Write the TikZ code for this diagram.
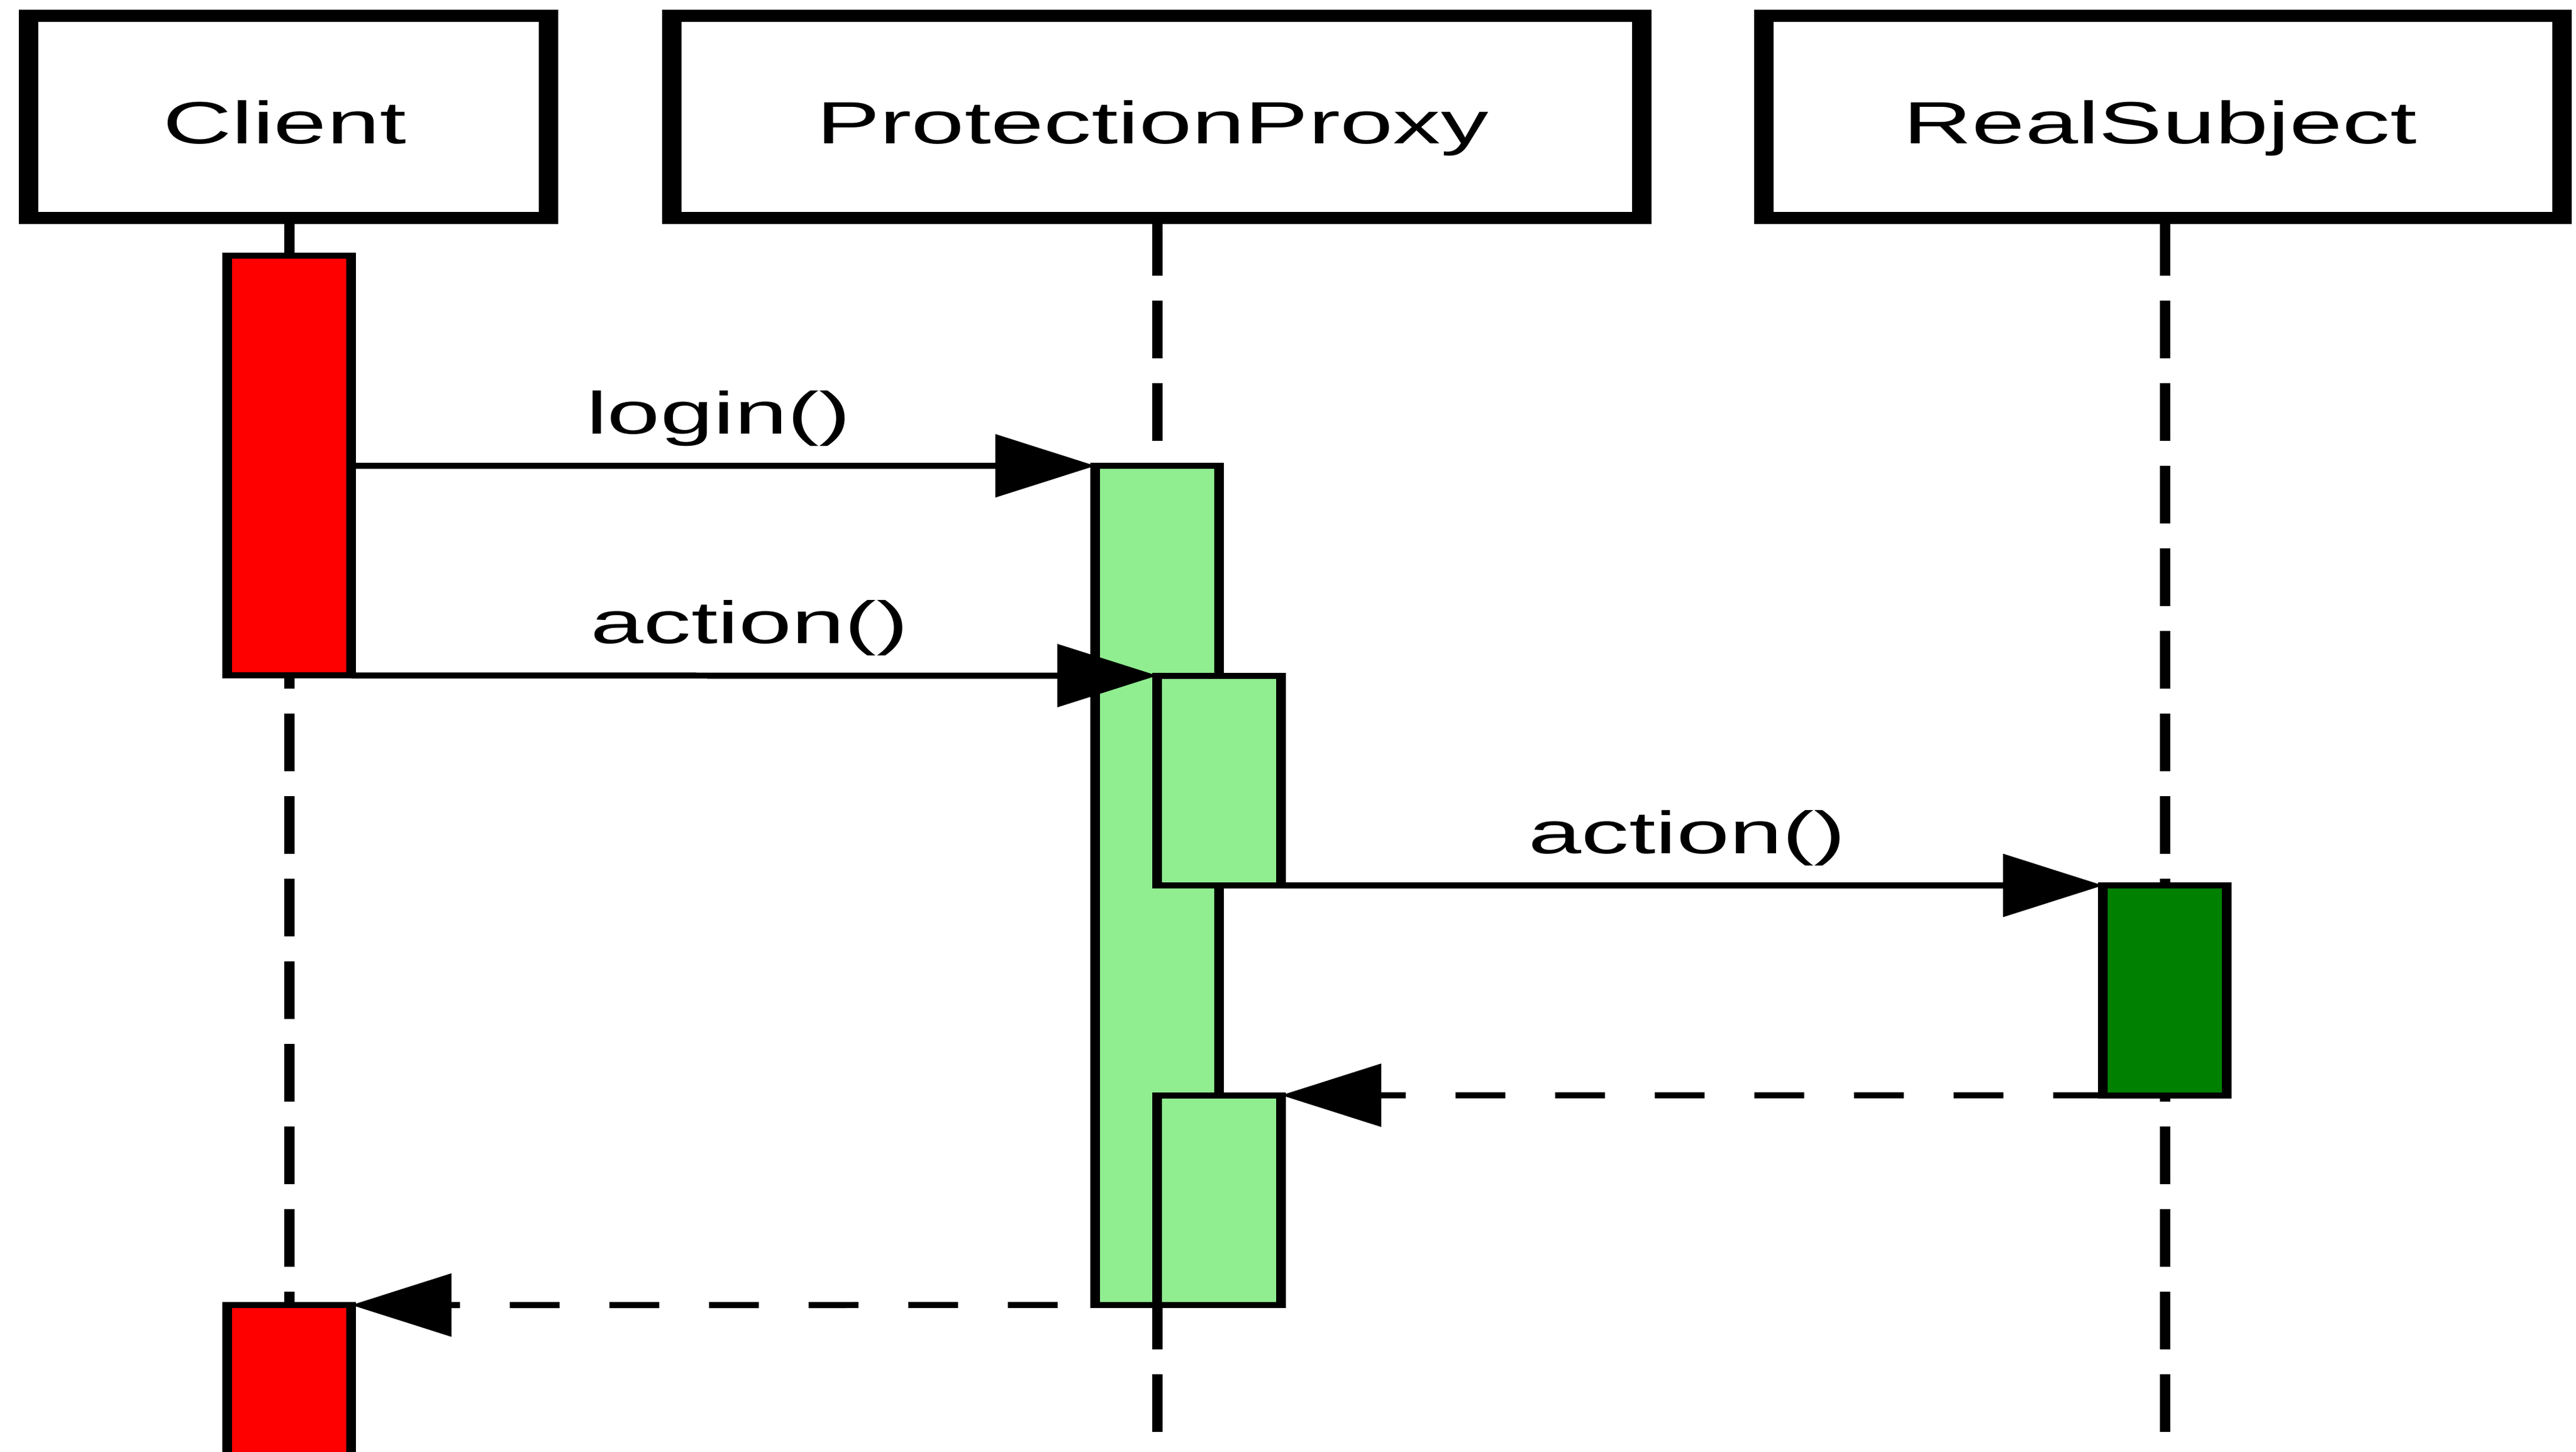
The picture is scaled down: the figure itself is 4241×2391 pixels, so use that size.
\documentclass[tikz,border=0pt]{standalone}
\usepackage{fontspec}
\setmainfont{Liberation Sans}
\usetikzlibrary{arrows.meta}
\definecolor{actred}{HTML}{FF0000}
\definecolor{actlight}{HTML}{90EE90}
\definecolor{actdark}{HTML}{008000}
\begin{document}
\begin{tikzpicture}[x=0.1pt,y=0.1pt]
\useasboundingbox[fill=white] (0,0) rectangle (4241,-2391);
\begin{scope}[transform canvas={xscale=1.6}, x=0.0625pt, y=0.1pt,
  hdr/.style={draw=black, line width=2pt, fill=white, minimum height=33.3pt, inner sep=0pt, outer sep=0pt},
  txt/.style={font=\fontsize{9.8pt}{12pt}\selectfont, inner sep=0pt, outer sep=0pt, anchor=base, xshift=-0.5pt},
  act/.style={draw=black, line width=1pt, minimum width=12.75pt, inner sep=0pt, outer sep=0pt},
  lifeline/.style={line width=1.05pt, dash pattern=on 9.5pt off 4.1pt},
  msg/.style={line width=1pt, -{Triangle[length=10.3pt,width=10.2pt]}},
  ret/.style={msg, dash pattern=on 5.125pt off 5.125pt}]

% participants
\node[hdr, minimum width=53.56pt] (client) at (475,-192.5) {};
\node[hdr, minimum width=99.78pt] (proxy) at (1904.5,-192.5) {};
\node[hdr, minimum width=82.13pt] (real) at (3561,-192.5) {};
\node[txt] (clientT) at (476.5,-237) {Client};
\node[txt] (proxyT) at (1905.5,-237) {ProtectionProxy};
\node[txt] (realT) at (3564.5,-237) {RealSubject};

% lifelines
\coordinate (bottom) at (0,-2391);
\coordinate (c0) at (476.5,-359);
\coordinate (p0) at (1905.5,-359);
\coordinate (r0) at (3564.5,-359);
\draw[lifeline] (c0) -- (c0 |- bottom);
\draw[lifeline] (p0) -- (p0 |- bottom);
\draw[lifeline] (r0) -- (r0 |- bottom);

% activations
\node[act, fill=actred, minimum height=69.15pt] (red1) at (476.5,-766.75) {};
\node[act, fill=actlight, minimum height=138.2pt] (green1) at (1905.5,-1458) {};
\node[act, fill=actlight, minimum height=34.55pt] (green2) at (2007.5,-1285.25) {};
\node[act, fill=actdark, minimum height=34.55pt] (dark) at (3564.5,-1630.75) {};
\node[act, fill=actlight, minimum height=34.55pt] (green3) at (2007.5,-1976.25) {};
\node[act, fill=actred, minimum height=29.1pt] (red2) at (476.5,-2294.5) {};

% messages
\draw[msg] (red1.east |- green1.north west) -- node[txt, yshift=5.3pt] (lbl1) {login()} (green1.north west);
\draw[msg] (red1.south east) -- node[txt, yshift=5.3pt] (lbl2) {action()} (green2.north west);
\draw[msg] (green2.south east) -- node[txt, yshift=5.3pt] (lbl3) {action()} (dark.north west);
\draw[ret] (dark.south west) -- (green3.north east);
\draw[ret, dash phase=6.375pt] (green1.south west) -- (red2.north east);
\end{scope}
\end{tikzpicture}
\end{document}
